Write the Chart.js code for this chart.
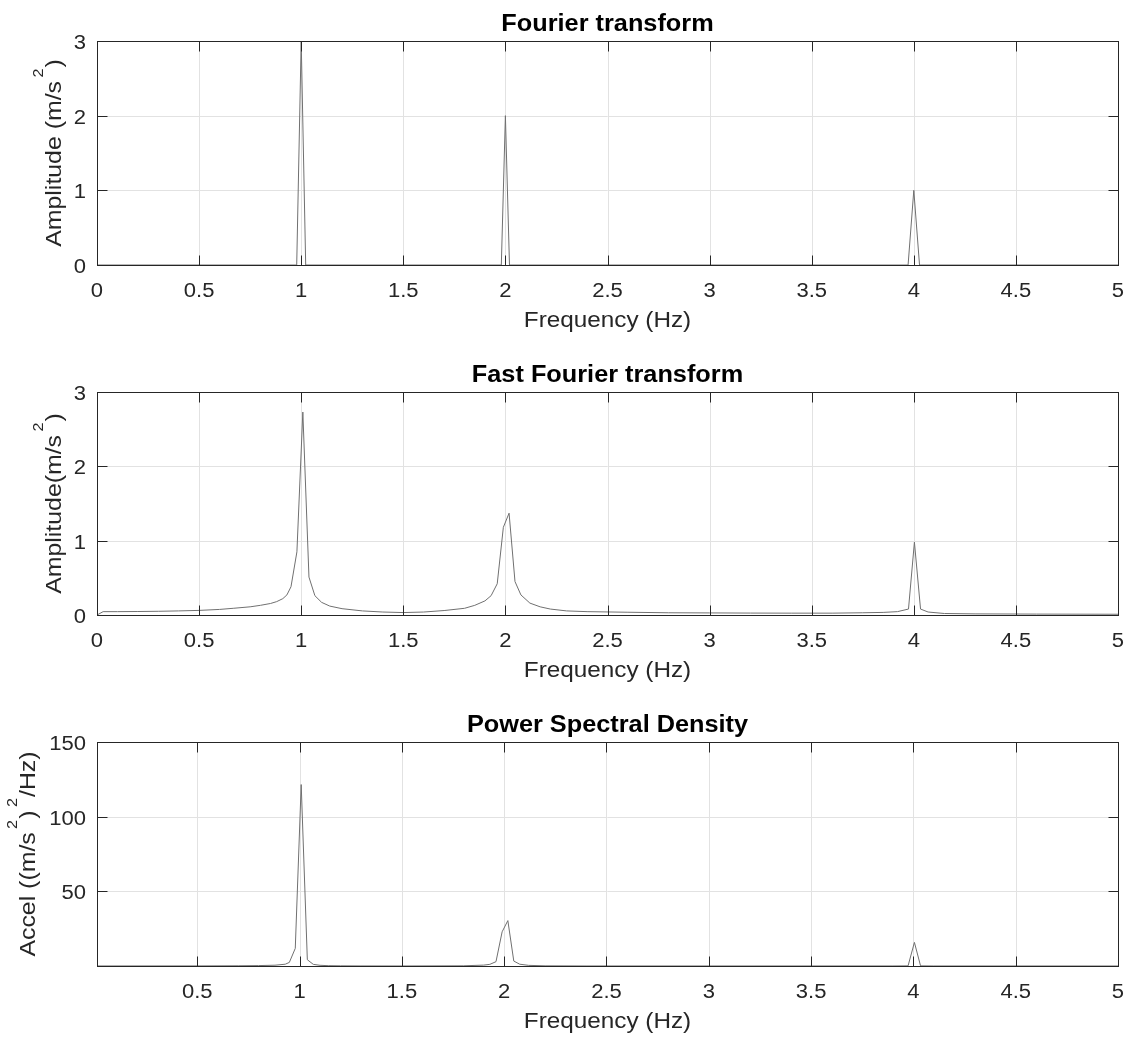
<!DOCTYPE html>
<html>
<head>
<meta charset="utf-8">
<title>Fourier / FFT / PSD</title>
<script src="https://cdn.jsdelivr.net/npm/chart.js@4.4.0/dist/chart.umd.min.js"></script>
<style>
    html, body { margin: 0; padding: 0; background: #fff; }
    #wrap { position: relative; width: 1130px; height: 1041px; overflow: hidden; }
    canvas { position: absolute; left: 0; }
</style>
</head>
<body>
<div id="wrap">
    <canvas id="c1" width="1130" height="351" style="top:0"></canvas>
    <canvas id="c2" width="1130" height="350" style="top:351px"></canvas>
    <canvas id="c3" width="1130" height="340" style="top:701px"></canvas>
</div>
<script>
// --- data ---
var ftFreq = [0, 0.978, 1.0, 1.022, 1.98, 2.0, 2.02, 3.972, 4.0, 4.028, 5];
var ftAmp = [0, 0, 3.0, 0, 0, 2.0, 0, 0, 1.0, 0, 0];

var fftFreq = [0, 0.03, 0.1, 0.2, 0.3, 0.4, 0.5, 0.6, 0.667, 0.75, 0.8, 0.85, 0.88, 0.91, 0.93, 0.95, 0.979, 1.008,
    1.038, 1.067, 1.1, 1.14, 1.2, 1.3, 1.4, 1.5, 1.6, 1.7, 1.8, 1.85, 1.9, 1.93, 1.96, 1.99, 2.018, 2.047, 2.076,
    2.12, 2.17, 2.22, 2.3, 2.4, 2.6, 2.8, 3.0, 3.2, 3.4, 3.6, 3.75, 3.85, 3.92, 3.974, 4.003, 4.033, 4.07, 4.15,
    4.3, 4.6, 5.0];
var fftAmp = [0, 0.045, 0.045, 0.047, 0.05, 0.055, 0.062, 0.075, 0.09, 0.11, 0.13, 0.155, 0.18, 0.22, 0.27, 0.38, 0.85, 2.73,
    0.51, 0.26, 0.17, 0.12, 0.085, 0.055, 0.04, 0.033, 0.04, 0.06, 0.09, 0.13, 0.19, 0.26, 0.42, 1.18, 1.37, 0.45, 0.27,
    0.16, 0.11, 0.08, 0.055, 0.045, 0.037, 0.03, 0.028, 0.026, 0.025, 0.025, 0.03, 0.035, 0.045, 0.08, 0.98, 0.08, 0.04, 0.02,
    0.015, 0.012, 0.01];

var psdFreq = [0.01, 0.5, 0.7, 0.8, 0.88, 0.93, 0.95, 0.979, 1.008, 1.038, 1.067, 1.1, 1.14, 1.2, 1.3, 1.5, 1.8, 1.9,
    1.93, 1.96, 1.99, 2.018, 2.047, 2.076, 2.12, 2.2, 2.4, 3.0, 3.9, 3.974, 4.005, 4.035, 4.1, 5.0];
var psdVal = [0.03, 0.06, 0.15, 0.28, 0.53, 1.2, 2.4, 11.8, 121.5, 4.2, 1.1, 0.47, 0.23, 0.12, 0.05, 0.02, 0.13, 0.59,
    1.1, 2.9, 22.9, 30.4, 3.3, 1.2, 0.42, 0.12, 0.03, 0.013, 0.033, 0.1, 15.8, 0.1, 0.02, 0.002];

var xTicks = [0, 0.5, 1, 1.5, 2, 2.5, 3, 3.5, 4, 4.5, 5];
var xTickLabels = ['0', '0.5', '1', '1.5', '2', '2.5', '3', '3.5', '4', '4.5', '5'];
var xTicksPsd = [0.5, 1, 1.5, 2, 2.5, 3, 3.5, 4, 4.5, 5];
var xTickLabelsPsd = ['0.5', '1', '1.5', '2', '2.5', '3', '3.5', '4', '4.5', '5'];
var ampTicks = [0, 1, 2, 3];
var psdTicks = [50, 100, 150];

// --- look ---
var FONT = '"Liberation Sans", Arial, Helvetica, sans-serif';
var AXIS = '#262626';
var GRID = '#e2e2e2';
var LINE = '#707070';
var STRETCH = 1.13;

function partWidth(ctx, p, size, bold) {
    var fs = p.sup ? size * 0.65 : size;
    ctx.font = (bold ? 'bold ' : '') + fs + 'px ' + FONT;
    return ctx.measureText(p.t).width + (p.sup ? 4 : 0);
}

// draws rich text (with superscripts) at the current origin, baseline y = 0
function drawRich(ctx, parts, size, bold, align) {
    var w = 0;
    parts.forEach(function (p) { w += partWidth(ctx, p, size, bold); });
    var x = align === 'center' ? -w / 2 : (align === 'right' ? -w : 0);
    ctx.textAlign = 'left';
    ctx.textBaseline = 'alphabetic';
    parts.forEach(function (p) {
        var pw = partWidth(ctx, p, size, bold);
        ctx.fillText(p.t, x + (p.sup ? 3 : 0), p.sup ? -size * 0.8 : 0);
        x += pw;
    });
}

function text(ctx, parts, x, y, size, opt) {
    opt = opt || {};
    ctx.save();
    ctx.translate(x, y);
    if (opt.rotate) ctx.rotate(-Math.PI / 2);
    ctx.scale(opt.stretch || STRETCH, 1);
    ctx.fillStyle = opt.color || AXIS;
    drawRich(ctx, parts, size, opt.bold, opt.align || 'center');
    ctx.restore();
}

function px(v) { return Math.round(v) + 0.5; }

function matlabAxes(cfg) {
    return {
        id: 'matlabAxes',
        beforeDatasetsDraw: function (chart) {
            var ctx = chart.ctx, a = chart.chartArea, sx = chart.scales.x, sy = chart.scales.y;
            ctx.save();
            ctx.strokeStyle = GRID;
            ctx.lineWidth = 1;
            ctx.beginPath();
            cfg.xTicks.forEach(function (v) {
                var x = px(sx.getPixelForValue(v));
                ctx.moveTo(x, a.top); ctx.lineTo(x, a.bottom);
            });
            cfg.yTicks.forEach(function (v) {
                var y = px(sy.getPixelForValue(v));
                ctx.moveTo(a.left, y); ctx.lineTo(a.right, y);
            });
            ctx.stroke();
            ctx.restore();
        },
        afterDatasetsDraw: function (chart) {
            var ctx = chart.ctx, a = chart.chartArea, sx = chart.scales.x, sy = chart.scales.y;
            var L = px(a.left), R = px(a.right), T = px(a.top), B = px(a.bottom);
            ctx.save();
            ctx.strokeStyle = AXIS;
            ctx.lineWidth = 1;
            ctx.strokeRect(L, T, R - L, B - T);
            ctx.beginPath();
            cfg.xTicks.forEach(function (v) {
                var x = px(sx.getPixelForValue(v));
                ctx.moveTo(x, B); ctx.lineTo(x, B - 10);
                ctx.moveTo(x, T); ctx.lineTo(x, T + 10);
            });
            cfg.yTicks.forEach(function (v) {
                var y = px(sy.getPixelForValue(v));
                ctx.moveTo(L, y); ctx.lineTo(L + 10, y);
                ctx.moveTo(R, y); ctx.lineTo(R - 10, y);
            });
            ctx.stroke();
            ctx.restore();

            // tick labels
            cfg.xTicks.forEach(function (v, i) {
                text(ctx, [{t: cfg.xLabels[i]}], sx.getPixelForValue(v), a.bottom + 31.5, 19.5);
            });
            cfg.yTicks.forEach(function (v) {
                text(ctx, [{t: String(v)}], a.left - 11, sy.getPixelForValue(v) + 8, 19.5, {align: 'right'});
            });
            // title and axis labels
            var cx = (a.left + a.right) / 2, cy = (a.top + a.bottom) / 2;
            text(ctx, [{t: cfg.title}], cx, a.top - 10, 23, {bold: true, stretch: 1.1, color: '#000'});
            text(ctx, [{t: 'Frequency (Hz)'}], cx, a.bottom + 62, 21.5);
            text(ctx, cfg.yLabel, cfg.yLabelX, cy, 22, {rotate: true});
        }
    };
}

function makeChart(id, xs, ys, cfg) {
    var pts = xs.map(function (x, i) { return {x: x, y: ys[i]}; });
    return new Chart(document.getElementById(id), {
        type: 'line',
        data: {
            datasets: [{
                data: pts,
                borderColor: LINE,
                borderWidth: 1,
                pointRadius: 0,
                tension: 0,
                fill: false
            }]
        },
        options: {
            responsive: false,
            animation: false,
            events: [],
            layout: {padding: {left: 97, right: 12, top: 41, bottom: cfg.padBottom}},
            plugins: {legend: {display: false}, tooltip: {enabled: false}},
            scales: {
                x: {type: 'linear', display: false, min: cfg.xMin, max: 5},
                y: {type: 'linear', display: false, min: 0, max: cfg.yMax}
            }
        },
        plugins: [matlabAxes(cfg)]
    });
}

makeChart('c1', ftFreq, ftAmp, {
    title: 'Fourier transform', padBottom: 86, xMin: 0, yMax: 3,
    xTicks: xTicks, xLabels: xTickLabels, yTicks: ampTicks, yLabelX: 61,
    yLabel: [{t: 'Amplitude (m/s'}, {t: '2', sup: true}, {t: ')'}]
});
makeChart('c2', fftFreq, fftAmp, {
    title: 'Fast Fourier transform', padBottom: 86, xMin: 0, yMax: 3,
    xTicks: xTicks, xLabels: xTickLabels, yTicks: ampTicks, yLabelX: 61,
    yLabel: [{t: 'Amplitude(m/s'}, {t: '2', sup: true}, {t: ')'}]
});
makeChart('c3', psdFreq, psdVal, {
    title: 'Power Spectral Density', padBottom: 75, xMin: 0.01, yMax: 150,
    xTicks: xTicksPsd, xLabels: xTickLabelsPsd, yTicks: psdTicks, yLabelX: 35,
    yLabel: [{t: 'Accel ((m/s'}, {t: '2', sup: true}, {t: ')'}, {t: '2', sup: true}, {t: '/Hz)'}]
});
</script>
</body>
</html>
